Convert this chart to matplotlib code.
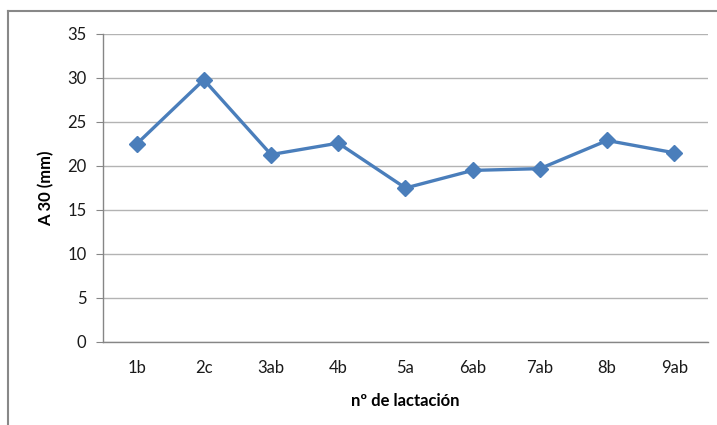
import matplotlib.pyplot as plt
from matplotlib.lines import Line2D

plt.rcParams['font.family'] = ['Lato', 'DejaVu Sans']

# Lactation number (with significance letters) and mean A30 value
categories = ['1b', '2c', '3ab', '4b', '5a', '6ab', '7ab', '8b', '9ab']
a30_mm = [22.5, 29.8, 21.3, 22.6, 17.5, 19.5, 19.7, 22.9, 21.5]

fig = plt.figure(figsize=(7.17, 4.25), dpi=100)
ax = fig.add_axes([0.1437, 0.1953, 0.8437, 0.7247])

x = range(len(categories))
ax.plot(x, a30_mm, color='#4a7ebb', linewidth=2.4, marker='D',
        markersize=8, markerfacecolor='#4a7ebb', markeredgecolor='#4a7ebb',
        zorder=3, clip_on=False)

ax.set_xlim(-0.5, len(categories) - 0.5)
ax.set_ylim(0, 35)
ax.set_yticks(range(0, 36, 5))
ax.set_xticks(list(x))
ax.set_xticklabels(categories)

ax.grid(axis='y', color='#b3b3b3', linewidth=1.0)
ax.set_axisbelow(True)
for side in ['top', 'right']:
    ax.spines[side].set_visible(False)
for side in ['left', 'bottom']:
    ax.spines[side].set_color('#868686')
    ax.spines[side].set_linewidth(1.0)

ax.tick_params(axis='y', length=5, color='#868686', labelsize=12,
               labelcolor='#1a1a1a', pad=7)
ax.tick_params(axis='x', length=0, labelsize=12, labelcolor='#1a1a1a', pad=13)

ax.set_ylabel('A 30 (mm)', fontsize=12, fontweight='bold', labelpad=9)
ax.set_xlabel('nº de lactación', fontsize=12, fontweight='bold', labelpad=12)

# chart area frame (left and top edges)
W, H = 717, 425
fig.add_artist(Line2D([8 / W, 8 / W], [0, 1 - 11 / H], transform=fig.transFigure,
                      color='#888888', linewidth=1.5))
fig.add_artist(Line2D([8 / W, 1], [1 - 11 / H, 1 - 11 / H], transform=fig.transFigure,
                      color='#888888', linewidth=1.5))

fig.savefig('out.png', dpi=100)
